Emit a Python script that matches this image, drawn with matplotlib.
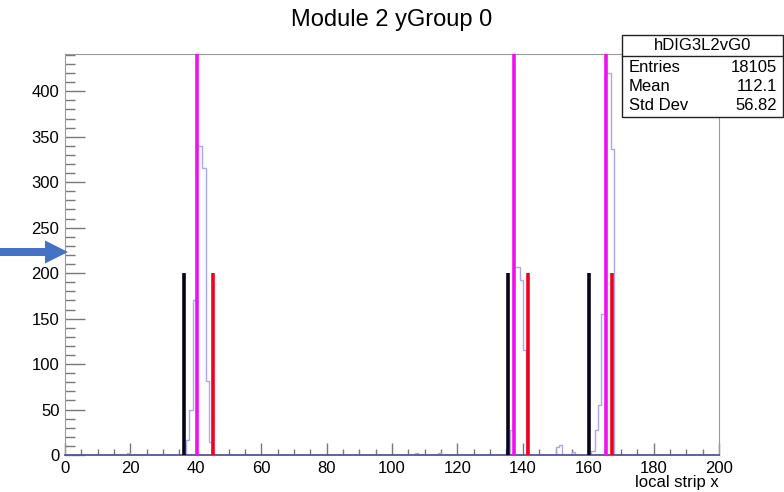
import numpy as np
import matplotlib
matplotlib.use("Agg")
import matplotlib.pyplot as plt
from matplotlib.patches import Rectangle, FancyArrow

plt.rcParams['font.family'] = ['Liberation Sans', 'DejaVu Sans']

# histogram contents (bin lower edge -> count), everything else is 0
bin_lo = [19, 37, 38, 39, 40, 41, 42, 43, 44, 107, 114,
          136, 137, 138, 139, 140, 150, 151, 155,
          161, 162, 163, 164, 165, 166, 167]
bin_count = [2, 16, 49, 170, 340, 340, 316, 81, 14, 2, 2,
             27, 207, 207, 192, 115, 9, 11, 3,
             4, 27, 55, 155, 420, 420, 336]

# marker lines
black_x = [36.3, 135.5, 160.3]
magenta_x = [40.4, 137.4, 165.4]
red_x = [45.3, 141.6, 167.4]
marker_h = 200

stats_name = "hDIG3L2vG0"
stats_rows = [("Entries", "18105"), ("Mean", "112.1"), ("Std Dev", "56.82")]

W, H = 784, 492
fig = plt.figure(figsize=(W / 100, H / 100), dpi=100)
ax = fig.add_axes([65 / W, 1 - 455 / H, (719 - 65) / W, (455 - 54) / H])

edges = np.arange(0, 201)
counts = np.zeros(200)
for b, c in zip(bin_lo, bin_count):
    counts[b] = c

ax.stairs(counts, edges, color='#a8a8ee', lw=1, zorder=2)

ymax = 441
ax.vlines(black_x, 0, marker_h, color='#05051a', lw=2.6, zorder=3)
ax.vlines(red_x, 0, marker_h, color='#f2001e', lw=2.6, zorder=3)
ax.vlines(magenta_x, 0, ymax, color='#ee11ee', lw=2.6, zorder=3)

ax.set_xlim(0, 200)
ax.set_ylim(0, ymax)
ax.set_xticks(np.arange(0, 201, 20))
ax.set_xticks(np.arange(0, 201, 5), minor=True)
ax.set_yticks(np.arange(0, 401, 50))
ax.set_yticks(np.arange(0, 441, 10), minor=True)

ax.tick_params(axis='both', which='both', direction='in', colors='#777777',
               labelcolor='black', labelsize=12)
ax.tick_params(axis='x', which='major', length=8.6, width=1, pad=4)
ax.tick_params(axis='x', which='minor', length=4.3, width=1)
ax.tick_params(axis='y', which='major', length=14.4, width=1, pad=4)
ax.tick_params(axis='y', which='minor', length=7.2, width=1)

for s in ['top', 'right', 'left']:
    ax.spines[s].set_color('#999999')
ax.spines['bottom'].set_color('#555599')
ax.spines['bottom'].set_linewidth(1.3)

fig.text(392 / W, 1 - 20 / H, "Module 2 yGroup 0", ha='center', va='center', fontsize=17)
fig.text(719 / W, 1 - 482 / H, "local strip x", ha='right', va='center', fontsize=12)

# stats box
bx0, bx1, by0, by1, sep = 621.5, 783, 35, 117, 56
fig.add_artist(Rectangle((bx0 / W, 1 - by1 / H), (bx1 - bx0) / W, (by1 - by0) / H,
                         transform=fig.transFigure, facecolor='white',
                         edgecolor='#222222', lw=1, zorder=5))
fig.add_artist(plt.Line2D([bx0 / W, bx1 / W], [1 - sep / H, 1 - sep / H],
                          transform=fig.transFigure, color='#222222', lw=1, zorder=6))
fig.text((bx0 + bx1) / 2 / W, 1 - 45.5 / H, stats_name, ha='center', va='center',
         fontsize=12, zorder=7)
for (lab, val), yy in zip(stats_rows, [67, 87, 106]):
    fig.text(629 / W, 1 - yy / H, lab, ha='left', va='center', fontsize=12, zorder=7)
    fig.text(777 / W, 1 - yy / H, val, ha='right', va='center', fontsize=12, zorder=7)

# blue arrow on the left
fig.add_artist(FancyArrow(0, 1 - 252 / H, 68 / W, 0, width=8 / H, head_width=23 / H,
                          head_length=23 / W, length_includes_head=True,
                          transform=fig.transFigure, color='#4472c4', lw=0, zorder=8))

fig.savefig("out.png", dpi=100)
